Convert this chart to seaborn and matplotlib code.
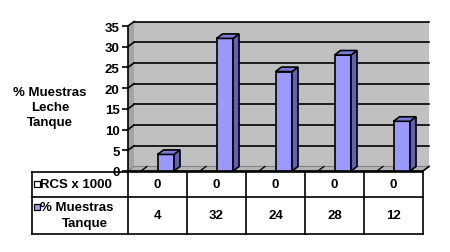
import matplotlib
matplotlib.use("Agg")
import matplotlib.pyplot as plt
import seaborn as sns
import pandas as pd
from matplotlib.patches import Polygon, Rectangle
from matplotlib.lines import Line2D

# ---- data ----
categories = ["1", "2", "3", "4", "5"]
series_names = ["RCS x 1000", "% Muestras Tanque"]
rcs_values = [0, 0, 0, 0, 0]
muestras_values = [4, 32, 24, 28, 12]
y_ticks = [0, 5, 10, 15, 20, 25, 30, 35]
y_label = "% Muestras\nLeche\nTanque"
row_labels = ["RCS x 1000", "% Muestras\nTanque"]

plt.rcParams['font.family'] = ['Liberation Sans', 'DejaVu Sans']
plt.rcParams['font.weight'] = 'bold'

FRONT = "#9999FF"
TOP = "#7B7BD6"
SIDE = "#6262B0"
WALL = "#C0C0C0"
SIDEWALL = "#A4A4A4"
FLOOR = "#B4B4B4"
FS = 9.5
LW = 1.2

W, H = 450, 253
fig = plt.figure(figsize=(4.5, 2.53), dpi=100)
L, R, T, B = 128, 423, 27, 172
ax = fig.add_axes([L / W, 1 - B / H, (R - L) / W, (B - T) / H])

df = pd.DataFrame({
    "cat": categories * 2,
    "serie": [series_names[0]] * len(categories) + [series_names[1]] * len(categories),
    "valor": rcs_values + muestras_values,
})
palette = {series_names[0]: "white", series_names[1]: FRONT}
sns.barplot(data=df, x="cat", y="valor", hue="serie", hue_order=series_names,
            palette=palette, width=0.56, edgecolor="black", linewidth=LW,
            saturation=1, legend=False, errorbar=None, ax=ax)
bars = list(ax.patches)

ax.set_xlim(-0.5, 4.5)
ax.set_ylim(0, 35)
ax.set_facecolor("none")
for s in ["top", "right", "bottom"]:
    ax.spines[s].set_visible(False)
ax.spines["left"].set_linewidth(LW)
ax.set_yticks(y_ticks)
ax.tick_params(axis="y", length=4, width=LW, pad=2, labelsize=FS)
for lab in ax.get_yticklabels():
    lab.set_fontweight("bold")
ax.set_xticks([])
ax.set_xlabel("")
ax.set_ylabel("")

xpp = 5.0 / (R - L)
ypp = 35.0 / (B - T)
DX = 6 * xpp
DY = 4.5 * ypp
x0a, x1a = -0.5, 4.5

# walls
ax.add_patch(Rectangle((x0a + DX, DY), x1a - x0a, 35, fc=WALL, ec="none",
                       zorder=0.1, clip_on=False))
ax.add_patch(Polygon([(x0a, 0), (x0a + DX, DY), (x0a + DX, 35 + DY), (x0a, 35)],
                     closed=True, fc=SIDEWALL, ec="none", zorder=0.2, clip_on=False))
ax.add_patch(Polygon([(x0a, 0), (x1a, 0), (x1a + DX, DY), (x0a + DX, DY)],
                     closed=True, fc=FLOOR, ec="#808080", lw=0.8, zorder=0.3, clip_on=False))
for t in y_ticks[1:]:
    ax.add_line(Line2D([x0a + DX, x1a + DX], [t + DY, t + DY], color="black",
                       lw=LW, zorder=0.25, clip_on=False))
    ax.add_line(Line2D([x0a, x0a + DX], [t, t + DY], color="black",
                       lw=LW, zorder=0.25, clip_on=False))
ax.add_line(Line2D([x0a, x1a], [0, 0], color="black", lw=LW, zorder=0.35, clip_on=False))
ax.add_line(Line2D([x1a, x1a + DX], [0, DY], color="black", lw=LW, zorder=0.35, clip_on=False))

# 3D bars
for i, p in enumerate(bars):
    bx, bw, bh = p.get_x(), p.get_width(), p.get_height()
    z = 1 + i
    p.set_zorder(z)
    if bh == 0:
        p.set_visible(False)
        for xx in (bx, bx + bw):
            ax.add_line(Line2D([xx, xx + DX], [0, DY], color="black", lw=LW * 0.8,
                               zorder=z, clip_on=False))
        continue
    ax.add_patch(Polygon([(bx + bw, 0), (bx + bw + DX, DY), (bx + bw + DX, bh + DY), (bx + bw, bh)],
                         closed=True, fc=SIDE, ec="black", lw=LW, zorder=z, clip_on=False))
    ax.add_patch(Polygon([(bx, bh), (bx + bw, bh), (bx + bw + DX, bh + DY), (bx + DX, bh + DY)],
                         closed=True, fc=TOP, ec="black", lw=LW, zorder=z, clip_on=False))

# y label
fig.text(50 / W, 1 - 108 / H, y_label, ha="center", va="center",
         multialignment="center", fontsize=FS, fontweight="bold", linespacing=1.35)

# data table
def fy(py):
    return 1 - py / H
tbl_left, tbl_top, tbl_mid, tbl_bot = 32, 173, 198, 235
tr = fig.transFigure
xs = [tbl_left, L] + [L + (k + 1) * (R - L) / len(categories) for k in range(len(categories))]
for py in [tbl_top, tbl_mid, tbl_bot]:
    fig.add_artist(Line2D([tbl_left / W, R / W], [fy(py), fy(py)], color="black", lw=LW, transform=tr))
for px in xs:
    fig.add_artist(Line2D([px / W, px / W], [fy(tbl_top), fy(tbl_bot)], color="black", lw=LW, transform=tr))

rows = [rcs_values, muestras_values]
row_centers = [(tbl_top + tbl_mid) / 2 - 0.5, (tbl_mid + tbl_bot) / 2]
swatch_colors = ["white", FRONT]
for r, (vals, cy) in enumerate(zip(rows, row_centers)):
    for k, v in enumerate(vals):
        cx = (xs[k + 1] + xs[k + 2]) / 2
        fig.text(cx / W, fy(cy), str(v), ha="center", va="center", fontsize=FS, fontweight="bold")
    if r == 0:
        sy = cy
        fig.text(40.5 / W, fy(cy), row_labels[r], ha="left", va="center", fontsize=FS, fontweight="bold")
    else:
        first, second = row_labels[r].split("\n")
        sy = 207.5
        fig.text(40.5 / W, fy(208), first, ha="left", va="center", fontsize=FS, fontweight="bold")
        fig.text(85 / W, fy(224), second, ha="center", va="center", fontsize=FS, fontweight="bold")
    fig.add_artist(Rectangle((33.5 / W, fy(sy + 3)), 6 / W, 6 / H, fc=swatch_colors[r],
                             ec="black", lw=0.9, transform=tr))

fig.savefig("out.png", dpi=100)
